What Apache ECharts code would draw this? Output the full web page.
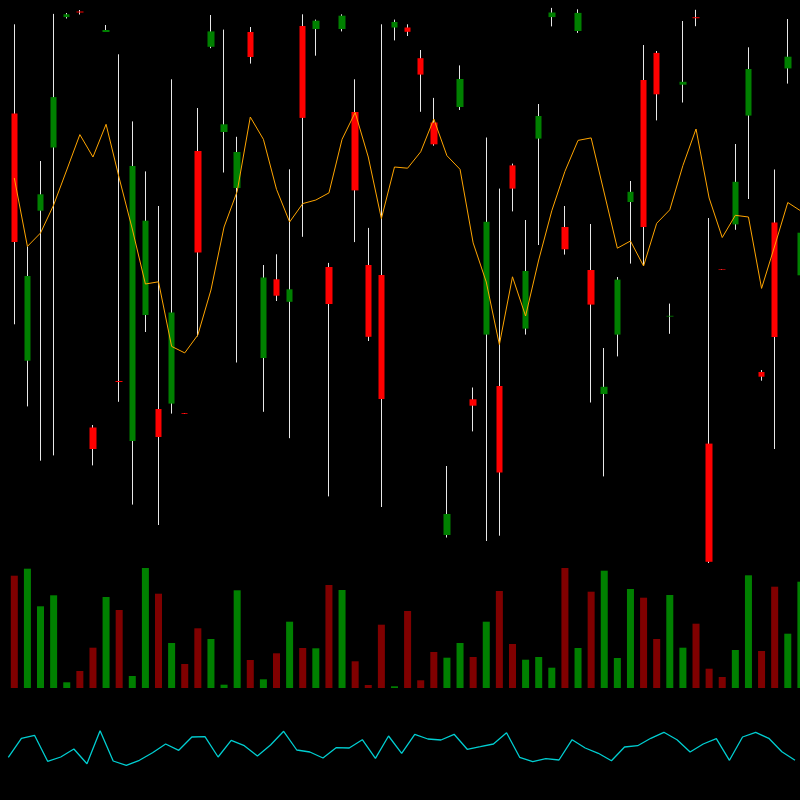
<!DOCTYPE html>
<html>
<head>
<meta charset="utf-8">
<script src="https://cdn.jsdelivr.net/npm/echarts@6/dist/echarts.min.js"></script>
<style>
html,body{margin:0;padding:0;background:#000;}
#c{width:800px;height:800px;}
</style>
</head>
<body>
<div id="c"></div>
<script>
var categories = [];
for (var k = 1; k <= 61; k++) categories.push(String(k));

var openVals = [456.4,209.3,359.3,422.5,552.9,558.5,142.5,538,189,129,
  255,161,166.4,156.8,419,523.2,438,382,538,212,
  290.7,268.2,544,541,303,541,458,305,295,542.5,
  542.5,511.8,447.5,35,463,170.7,235.4,184,404.6,241.4,
  431.4,552.9,343,539,300,176,235.4,368,490,517.1,
  253.4,485.3,552.8,126.4,300.7,345.6,454.4,198,347.5,501.6,294.7];
var closeVals = [327.9,294,375.7,472.9,555.7,557.5,121,540,188,404,
  349.3,133,257.5,156,317.5,538.6,445.7,418,513,292.5,
  274.3,280.7,452.1,549.3,266,554.3,379.6,233.2,171,548,
  538.2,495.4,425.7,56,491,164.3,348.2,97.5,381.4,299,
  454,557.5,320.7,557.1,265.4,183.2,290.4,378.2,343,475.7,
  254.2,488.2,551.8,8.2,300.1,388.2,501,193.3,233,513.3,337.3];
var lowVals = [245.7,163.6,109.3,114.6,551.5,555.5,104.6,538,168.2,65.4,
  238,45,156.4,156,233.6,521.8,397.5,207.5,506.4,158.2,
  269,131.8,333.2,514.3,73.6,538.6,327.9,229,63,529.6,
  534,458.2,424.3,32.5,460,138.6,29,34.3,358.6,235.4,
  325,543.6,315.4,537.1,167.5,93.6,213.6,306.4,304,449.6,
  236.2,467.5,543.8,7,300.1,340.2,371,189.3,121,486.4,285];
var highVals = [545.7,323.6,409,556.1,557,560,145,545,515.7,448.6,
  398.6,364,490.7,156.8,462,555,540.4,433.2,543,305,
  315.7,400.7,555.7,550.4,307.1,555.7,490.7,342.1,545.7,550.4,
  545.7,520,472.1,104,504.6,182.5,432.5,381.4,406.4,350,
  466,562.1,364,560.7,346,222,293,389,525,519,
  266.4,549,560.2,352,300.7,426,522.7,200,400.5,551,345];
var maVals = [392,323.6,337,365,400,435.4,413,445.7,392,341,
  286,288.2,223.6,217.1,235,280,343,378.6,453,430.7,
  380.7,348,366.4,370,377.1,430.7,457.5,413,351.4,403,
  401.8,418.2,451,414.3,400.7,327.1,288,225.4,293.2,254,
  310,359.3,398.6,429.6,432.1,377,321.8,329,304,346.7,
  360.2,404.5,441,372,332.5,354.7,353,281.6,324,367.5,359];
var volumeVals = [112.3,119.3,81.7,92.7,5.7,17,40.3,91,78,12,
  120,94.3,45,24,59.7,49,3.3,97.7,28,8.7,
  34.7,66.3,40,39.7,103,98,26.7,3,63.3,1.7,
  77,7.7,36,30.3,45,31,66.3,97,44,28.3,
  31,20.3,120,40,96.3,117.3,30,99,90.3,49,
  93,40.3,64.3,19.3,11,38,112.7,37,101.3,54.3,106.3];
var oscVals = [42.7,61.7,64.7,38.7,43,51,36.3,69.3,39,34.7,
  39.7,47.3,56,49.7,63,63.3,43,59.7,54.3,44,
  55,68.7,50,48,42,52.3,52,60.3,41.7,64,
  46.7,65.7,61,60,65.7,50.7,53.3,56,67.3,42.7,
  38.3,41.3,40,60.3,52,46.7,39.3,53,54.3,61.7,
  67.7,60.3,48,56,61.3,39.7,63,67.7,61.7,48.3,39.7];

var UP = '#008000', DOWN = '#ff0000', VOL_UP = '#008000', VOL_DOWN = '#800000';

var wickData = categories.map(function (c, i) {
  return [lowVals[i], highVals[i], lowVals[i], highVals[i]];
});
var bodyData = categories.map(function (c, i) {
  var lo = Math.min(openVals[i], closeVals[i]), hi = Math.max(openVals[i], closeVals[i]);
  return [openVals[i], closeVals[i], lo, hi];
});
var volData = categories.map(function (c, i) {
  return {
    value: volumeVals[i],
    itemStyle: { color: closeVals[i] >= openVals[i] ? VOL_UP : VOL_DOWN }
  };
});

var chart = echarts.init(document.getElementById('c'), null, { renderer: 'canvas' });
chart.setOption({
  backgroundColor: '#000000',
  animation: false,
  grid: [
    { left: 7.75, width: 799.7, top: 0, height: 570, outerBoundsMode: 'none', containLabel: false },
    { left: 7.75, width: 799.7, top: 560, height: 128, outerBoundsMode: 'none', containLabel: false },
    { left: 8.3, width: 786.7, top: 700, height: 100, outerBoundsMode: 'none', containLabel: false }
  ],
  xAxis: [
    { type: 'category', gridIndex: 0, data: categories, boundaryGap: true, show: false },
    { type: 'category', gridIndex: 1, data: categories, boundaryGap: true, show: false },
    { type: 'category', gridIndex: 2, data: categories, boundaryGap: false, show: false }
  ],
  yAxis: [
    { type: 'value', gridIndex: 0, min: 0, max: 570, show: false },
    { type: 'value', gridIndex: 1, min: 0, max: 128, show: false },
    { type: 'value', gridIndex: 2, min: 0, max: 100, show: false }
  ],
  series: [
    {
      type: 'candlestick', xAxisIndex: 0, yAxisIndex: 0, data: wickData,
      barWidth: 0.2, barMinWidth: 0, z: 1,
      itemStyle: { color: '#e8e8e8', color0: '#e8e8e8', borderColor: '#e8e8e8', borderColor0: '#e8e8e8', borderWidth: 1 }
    },
    {
      type: 'candlestick', xAxisIndex: 0, yAxisIndex: 0, data: bodyData,
      barWidth: 7, z: 3,
      itemStyle: { color: UP, color0: DOWN, borderColor: UP, borderColor0: DOWN, borderWidth: 0 }
    },
    {
      type: 'line', xAxisIndex: 0, yAxisIndex: 0, data: maVals, symbol: 'none', z: 4,
      lineStyle: { color: '#ffa500', width: 1 }
    },
    {
      type: 'bar', xAxisIndex: 1, yAxisIndex: 1, data: volData, barWidth: 7
    },
    {
      type: 'line', xAxisIndex: 2, yAxisIndex: 2, data: oscVals, symbol: 'none',
      lineStyle: { color: '#00ced1', width: 1.3 }
    }
  ]
});
</script>
</body>
</html>
